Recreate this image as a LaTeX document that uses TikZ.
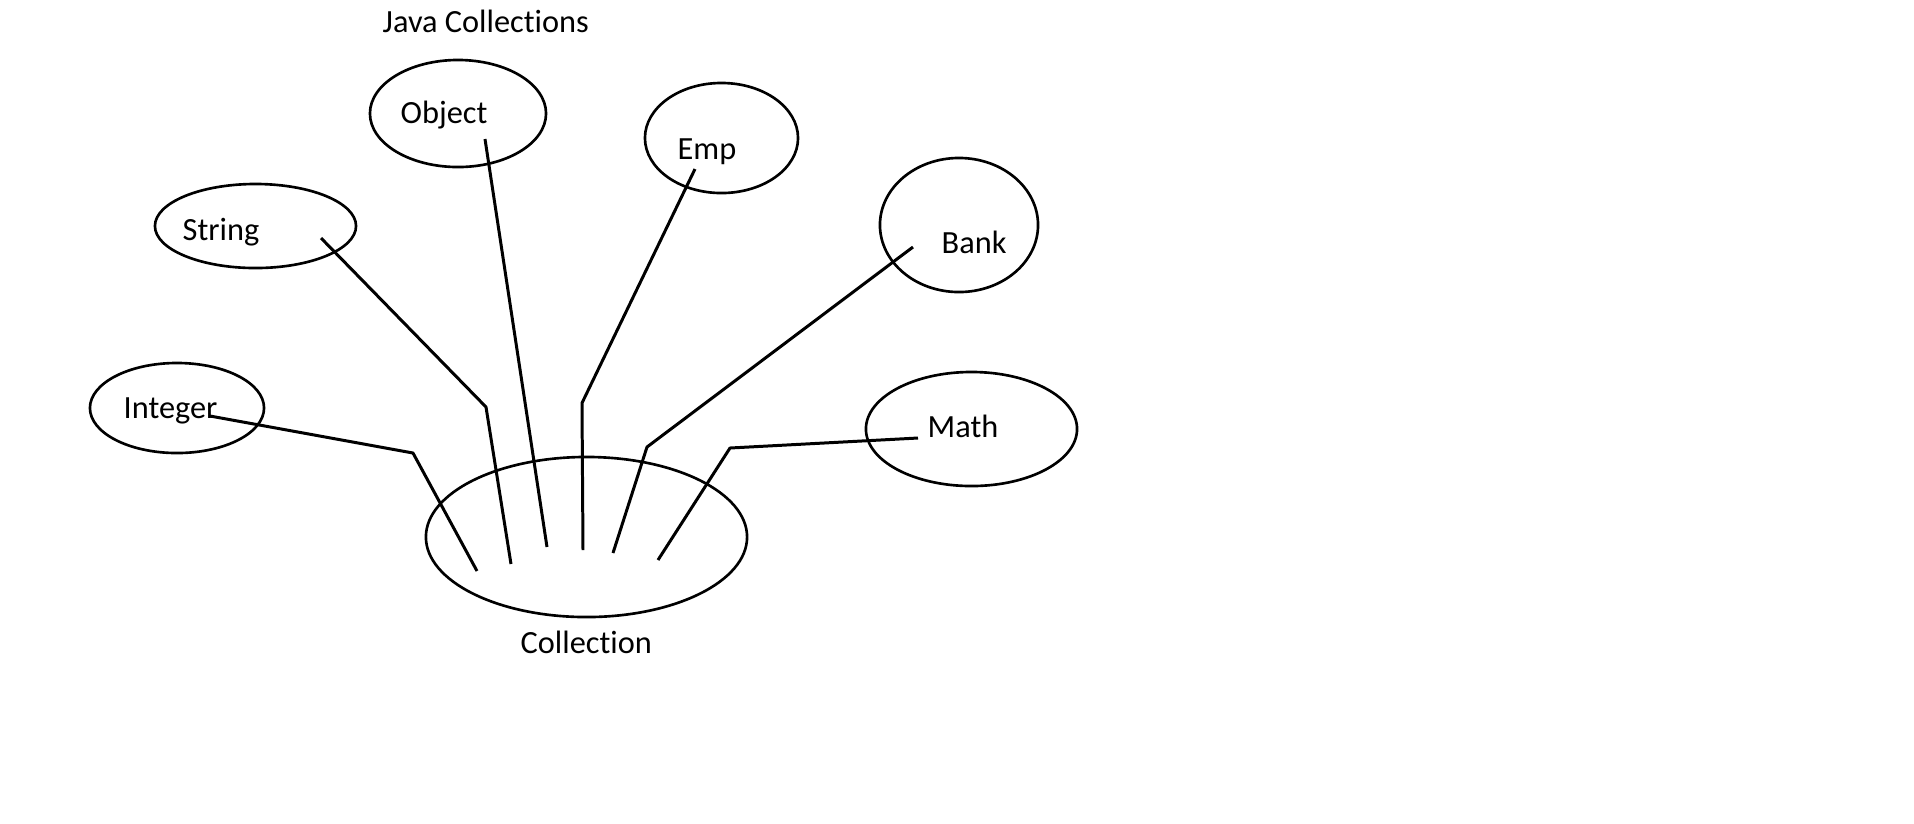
\documentclass[tikz,border=0pt]{standalone}
\usepackage{fontspec}
\setmainfont{Carlito}[Ligatures=NoCommon]
\usetikzlibrary{shapes.geometric}
\tikzset{
        blob/.style={draw, ellipse, line width=0.75pt, inner sep=0pt},
        word/.style={anchor=base west, inner sep=0pt, font=\fontsize{9.2}{11}\selectfont},
        wire/.style={line width=0.85pt, line join=round}
}

\begin{document}
\begin{tikzpicture}[x=0.01cm, y=-0.01cm]
        \useasboundingbox (0,0) rectangle (1914,823);
        \node (title) [word] at (382, 32) {Java Collections};
        \node (object) [blob, minimum width=1.76cm, minimum height=1.07cm] at (458, 113.5) {};
        \node (string) [blob, minimum width=2.01cm, minimum height=0.84cm] at (255.5, 226) {};
        \node (integer) [blob, minimum width=1.74cm, minimum height=0.90cm] at (177, 408) {};
        \node (emp) [blob, minimum width=1.53cm, minimum height=1.10cm] at (721.5, 138) {};
        \node (bank) [blob, minimum width=1.58cm, minimum height=1.34cm] at (959, 225) {};
        \node (math) [blob, minimum width=2.11cm, minimum height=1.14cm] at (971.5, 429) {};
        \node (coll) [blob, minimum width=3.21cm, minimum height=1.60cm] at (586.5, 537) {};
        \node (objecttxt) [word] at (400, 123) {Object};
        \node (stringtxt) [word] at (182, 240) {String};
        \node (integertxt) [word] at (123, 418) {Integer};
        \node (emptxt) [word] at (677, 159) {Emp};
        \node (banktxt) [word] at (941, 253) {Bank};
        \node (mathtxt) [word] at (927, 437) {Math};
        \node (colltxt) [word] at (520, 653) {Collection};
        \coordinate (i0) at (210, 416);
        \coordinate (i1) at (413, 453);
        \coordinate (i2) at (477, 571);
        \coordinate (s0) at (321, 238);
        \coordinate (s1) at (486, 407);
        \coordinate (s2) at (511, 564);
        \coordinate (o0) at (485, 139);
        \coordinate (o1) at (547, 547);
        \coordinate (e0) at (695, 169);
        \coordinate (e1) at (582, 403);
        \coordinate (e2) at (583, 550);
        \coordinate (b0) at (913, 247);
        \coordinate (b1) at (647, 447);
        \coordinate (b2) at (613, 553);
        \coordinate (m0) at (918, 438);
        \coordinate (m1) at (730, 448);
        \coordinate (m2) at (658, 560);
        \draw [wire] (i0) -- (i1) -- (i2);
        \draw [wire] (s0) -- (s1) -- (s2);
        \draw [wire] (o0) -- (o1);
        \draw [wire] (e0) -- (e1) -- (e2);
        \draw [wire] (b0) -- (b1) -- (b2);
        \draw [wire] (m0) -- (m1) -- (m2);
\end{tikzpicture}
\end{document}
